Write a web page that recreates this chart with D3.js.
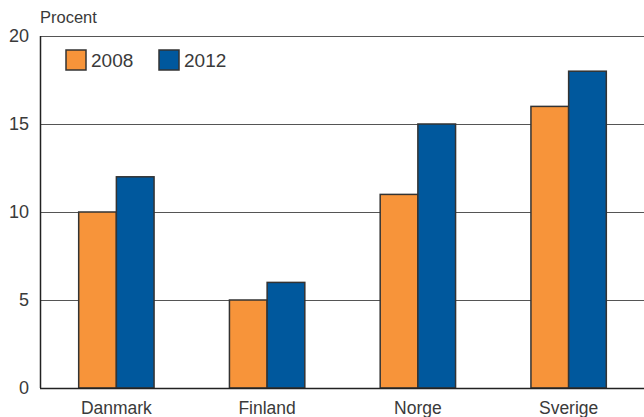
<!DOCTYPE html>
<html>
<head>
<meta charset="utf-8">
<script src="https://cdn.jsdelivr.net/npm/d3@7"></script>
<style>
  body { margin: 0; background: #fff; }
  text { font-family: "Liberation Sans", Arial, sans-serif; fill: #3a3a3a; }
</style>
</head>
<body>
<div id="chart"></div>
<script>
var categories = ["Danmark", "Finland", "Norge", "Sverige"];
var seriesNames = ["2008", "2012"];
var values2008 = [10, 5, 11, 16];
var values2012 = [12, 6, 15, 18];
var yTicks = [0, 5, 10, 15, 20];
var colors = ["#f7943a", "#00589d"];

var width = 644, height = 417;
var margin = {top: 36, right: 0, bottom: 29, left: 40};

var svg = d3.select("#chart").append("svg")
    .attr("width", width)
    .attr("height", height);

var x = d3.scaleBand()
    .domain(categories)
    .range([margin.left + 1, width])
    .paddingInner(0.5)
    .paddingOuter(0.25);

var xSub = d3.scaleBand()
    .domain(seriesNames)
    .range([0, x.bandwidth()]);

var y = d3.scaleLinear()
    .domain([0, 20])
    .range([height - margin.bottom, margin.top]);

// gridlines
svg.append("g")
    .selectAll("line")
    .data(yTicks.filter(function (d) { return d > 0; }))
    .enter().append("line")
    .attr("x1", margin.left)
    .attr("x2", width)
    .attr("y1", function (d) { return y(d) + 0.5; })
    .attr("y2", function (d) { return y(d) + 0.5; })
    .attr("stroke", "#555")
    .attr("stroke-width", 1);

// tick labels
svg.append("g")
    .selectAll("text")
    .data(yTicks)
    .enter().append("text")
    .attr("x", 29)
    .attr("y", function (d) { return y(d); })
    .attr("dy", "0.36em")
    .attr("text-anchor", "end")
    .style("font-size", "18px")
    .text(function (d) { return d; });

svg.append("text")
    .attr("x", 40)
    .attr("y", 23)
    .style("font-size", "16.5px")
    .text("Procent");

// bars
var rows = categories.map(function (c, i) {
    return {cat: c, vals: [values2008[i], values2012[i]]};
});

var groups = svg.append("g")
    .selectAll("g")
    .data(rows)
    .enter().append("g")
    .attr("transform", function (d) { return "translate(" + x(d.cat) + ",0)"; });

groups.selectAll("rect")
    .data(function (d) { return d.vals.map(function (v, j) { return {v: v, j: j}; }); })
    .enter().append("rect")
    .attr("x", function (d) { return xSub(seriesNames[d.j]); })
    .attr("y", function (d) { return y(d.v); })
    .attr("width", xSub.bandwidth())
    .attr("height", function (d) { return y(0) - y(d.v); })
    .attr("fill", function (d) { return colors[d.j]; })
    .attr("stroke", "#333")
    .attr("stroke-width", 1.5);

// axes lines
svg.append("line")
    .attr("x1", margin.left + 0.5).attr("x2", margin.left + 0.5)
    .attr("y1", margin.top).attr("y2", y(0))
    .attr("stroke", "#222").attr("stroke-width", 1.5);
svg.append("line")
    .attr("x1", margin.left).attr("x2", width)
    .attr("y1", y(0) + 0.5).attr("y2", y(0) + 0.5)
    .attr("stroke", "#222").attr("stroke-width", 1.5);

// category labels
svg.append("g")
    .selectAll("text")
    .data(categories)
    .enter().append("text")
    .attr("x", function (d) { return x(d) + x.bandwidth() / 2; })
    .attr("y", 414)
    .attr("text-anchor", "middle")
    .style("font-size", "17.5px")
    .text(function (d) { return d; });

// legend
var legendX = [66, 159];
var legend = svg.append("g")
    .selectAll("g")
    .data(seriesNames)
    .enter().append("g")
    .attr("transform", function (d, i) { return "translate(" + legendX[i] + ",50)"; });

legend.append("rect")
    .attr("width", 20)
    .attr("height", 20)
    .attr("fill", function (d, i) { return colors[i]; })
    .attr("stroke", "#333")
    .attr("stroke-width", 1.5);

legend.append("text")
    .attr("x", 25)
    .attr("y", 10)
    .attr("dy", "0.36em")
    .style("font-size", "19px")
    .text(function (d) { return d; });
</script>
</body>
</html>
